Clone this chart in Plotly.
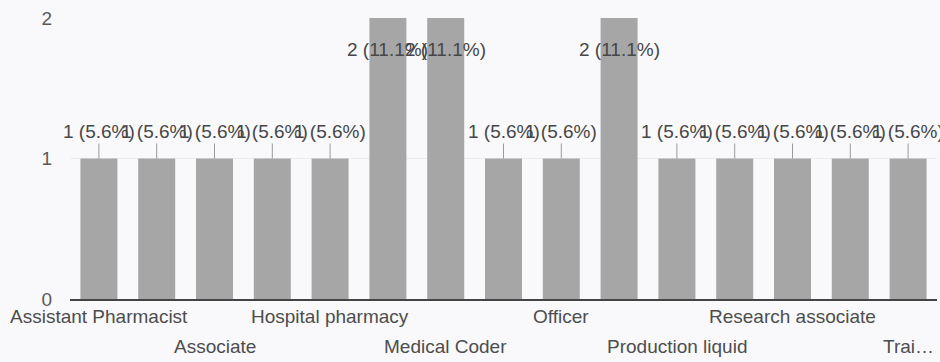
import plotly.graph_objects as go

# Responses per job role (categories sorted alphabetically; only every other label fits)
tick_labels = [
    "Assistant Pharmacist", "", "Associate", "", "Hospital pharmacy", "",
    "Medical Coder", "", "Officer", "", "Production liquid", "",
    "Research associate", "", "Trai…",
]
counts = [1, 1, 1, 1, 1, 2, 2, 1, 1, 2, 1, 1, 1, 1, 1]
y_ticks = [0, 1, 2]

FONT = "Arial, Liberation Sans, sans-serif"
BAR = "#a6a6a6"
BG = "#f9f9fb"
FS = 19

positions = list(range(len(counts)))
total = sum(counts)
peak = max(counts)

fig = go.Figure(
    go.Bar(
        x=positions,
        y=counts,
        width=0.64,
        marker=dict(color=BAR, line=dict(width=0)),
        hoverinfo="skip",
    )
)

annotations = []
# value labels: above the bar with a leader line, or inside the bar when it hits the top
for x, v in zip(positions, counts):
    text = f"{v} ({v / total * 100:.1f}%)"
    if v >= peak:
        annotations.append(dict(
            x=x, y=v, xref="x", yref="y", text=text, showarrow=False,
            yshift=-31, font=dict(family=FONT, size=FS, color="#474747"),
        ))
    else:
        annotations.append(dict(
            x=x, y=v, xref="x", yref="y", text=text, showarrow=True,
            arrowhead=0, arrowwidth=1, arrowcolor="#9a9a9a",
            ax=0, ay=-27, standoff=0,
            font=dict(family=FONT, size=FS, color="#474747"),
        ))

# category labels staggered on two rows
for i, (x, lab) in enumerate(zip(positions, tick_labels)):
    if not lab:
        continue
    row = (i // 2) % 2
    annotations.append(dict(
        x=x, y=0, xref="x", yref="paper", text=lab, showarrow=False,
        yanchor="middle", yshift=-17 if row == 0 else -47,
        font=dict(family=FONT, size=FS, color="#4d4d4d"),
    ))

fig.update_layout(
    width=940, height=362,
    margin=dict(l=70, r=3, t=18, b=63),
    paper_bgcolor=BG, plot_bgcolor=BG,
    showlegend=False,
    annotations=annotations,
    xaxis=dict(
        range=[-0.5, len(counts) - 0.5],
        showticklabels=False, showgrid=False, zeroline=False, ticks="",
        showline=True, linecolor="#444444", linewidth=1.5,
    ),
    yaxis=dict(
        range=[0, 2], tickvals=y_ticks, ticktext=[str(t) for t in y_ticks],
        showgrid=True, gridcolor="#ececef", gridwidth=1, zeroline=False,
        ticks="", ticklabelstandoff=17,
        tickfont=dict(family=FONT, size=FS, color="#5a5a5a"),
    ),
)

fig.write_html("out.html")
